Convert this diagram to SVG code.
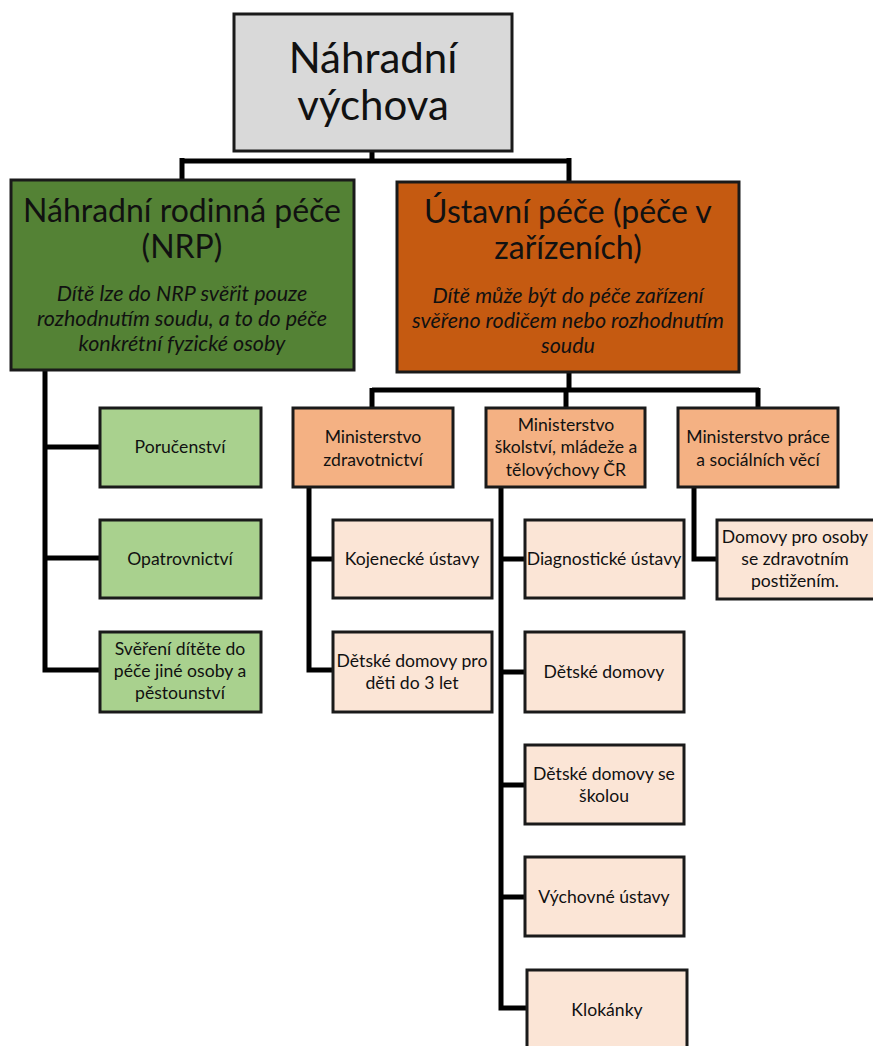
<svg xmlns="http://www.w3.org/2000/svg" width="873" height="1046" viewBox="0 0 873 1046">
<style>
.b{stroke:#1a1a1a;stroke-width:3}
.root{fill:#d9d9d9}
.g1{fill:#548235}
.o1{fill:#c55a11}
.g2{fill:#a9d18e}
.o2{fill:#f4b183}
.o3{fill:#fbe5d6}
text{font-family:Lato,"Open Sans","Liberation Sans",sans-serif;fill:#111;text-anchor:middle}
.t0{font-size:42px}
.t1{font-size:32px}
.it{font-size:21.5px;font-style:italic}
.s{font-size:17.6px}
.c{fill:none;stroke:#000;stroke-width:5}
</style>
<rect width="873" height="1046" fill="#fff"/>
<g id="connectors">
<path class="c" d="M372 151V161M182 161H569M182 158V180M569 158V182"/>
<path class="c" d="M45 370V670H100M45 447H100M45 558H100"/>
<path class="c" d="M569 372V390M372 390H759M372 388V408M566 388V408M758 388V408"/>
<path class="c" d="M309 487V670H333M309 559H333"/>
<path class="c" d="M501 487V1008H527M501 559H525M501 672H525M501 785H525M501 897H525"/>
<path class="c" d="M694 487V559H717"/>
</g>
<g id="root"><rect class="b root" x="234" y="14" width="278" height="137"/><text class="t0" x="373" y="73">Náhradní</text><text class="t0" x="373" y="120">výchova</text></g>
<g id="nrp"><rect class="b g1" x="11" y="180" width="343" height="190"/><text class="t1" x="182" y="222">Náhradní rodinná péče</text><text class="t1" x="182" y="258">(NRP)</text><text class="it" x="182" y="301">Dítě lze do NRP svěřit pouze</text><text class="it" x="182" y="326">rozhodnutím soudu, a to do péče</text><text class="it" x="182" y="351">konkrétní fyzické osoby</text></g>
<g id="ustavni"><rect class="b o1" x="397" y="182" width="342" height="190"/><text class="t1" x="568" y="223">Ústavní péče (péče v</text><text class="t1" x="568" y="259">zařízeních)</text><text class="it" x="568" y="303">Dítě může být do péče zařízení</text><text class="it" x="568" y="328">svěřeno rodičem nebo rozhodnutím</text><text class="it" x="568" y="353">soudu</text></g>
<g id="porucenstvi"><rect class="b g2" x="100" y="408" width="161" height="79"/><text class="s" x="180" y="453">Poručenství</text></g>
<g id="opatrovnictvi"><rect class="b g2" x="100" y="520" width="161" height="78"/><text class="s" x="180" y="565">Opatrovnictví</text></g>
<g id="svereni"><rect class="b g2" x="100" y="632" width="161" height="80"/><text class="s" x="180" y="655">Svěření dítěte do</text><text class="s" x="180" y="677">péče jiné osoby a</text><text class="s" x="180" y="699">pěstounství</text></g>
<g id="mz"><rect class="b o2" x="293" y="408" width="160" height="79"/><text class="s" x="373" y="443">Ministerstvo</text><text class="s" x="373" y="466">zdravotnictví</text></g>
<g id="msmt"><rect class="b o2" x="486" y="408" width="159" height="79"/><text class="s" x="566" y="431">Ministerstvo</text><text class="s" x="566" y="453">školství, mládeže a</text><text class="s" x="566" y="476">tělovýchovy ČR</text></g>
<g id="mpsv"><rect class="b o2" x="678" y="408" width="160" height="79"/><text class="s" x="758" y="443">Ministerstvo práce</text><text class="s" x="758" y="466">a sociálních věcí</text></g>
<g id="kojenecke"><rect class="b o3" x="333" y="520" width="159" height="78"/><text class="s" x="412" y="565">Kojenecké ústavy</text></g>
<g id="dd3"><rect class="b o3" x="333" y="632" width="159" height="80"/><text class="s" x="412" y="667">Dětské domovy pro</text><text class="s" x="412" y="689">děti do 3 let</text></g>
<g id="diagnosticke"><rect class="b o3" x="525" y="520" width="159" height="78"/><text class="s" x="604" y="565">Diagnostické ústavy</text></g>
<g id="dd"><rect class="b o3" x="525" y="632" width="159" height="80"/><text class="s" x="604" y="678">Dětské domovy</text></g>
<g id="dds"><rect class="b o3" x="525" y="745" width="159" height="79"/><text class="s" x="604" y="780">Dětské domovy se</text><text class="s" x="604" y="802">školou</text></g>
<g id="vychovne"><rect class="b o3" x="525" y="857" width="159" height="79"/><text class="s" x="604" y="903">Výchovné ústavy</text></g>
<g id="klokanky"><rect class="b o3" x="527" y="970" width="160" height="80"/><text class="s" x="607" y="1016">Klokánky</text></g>
<g id="domovy"><rect class="b o3" x="717" y="520" width="160" height="79"/><text class="s" x="795" y="543">Domovy pro osoby</text><text class="s" x="795" y="565">se zdravotním</text><text class="s" x="795" y="587">postižením.</text></g>
</svg>
